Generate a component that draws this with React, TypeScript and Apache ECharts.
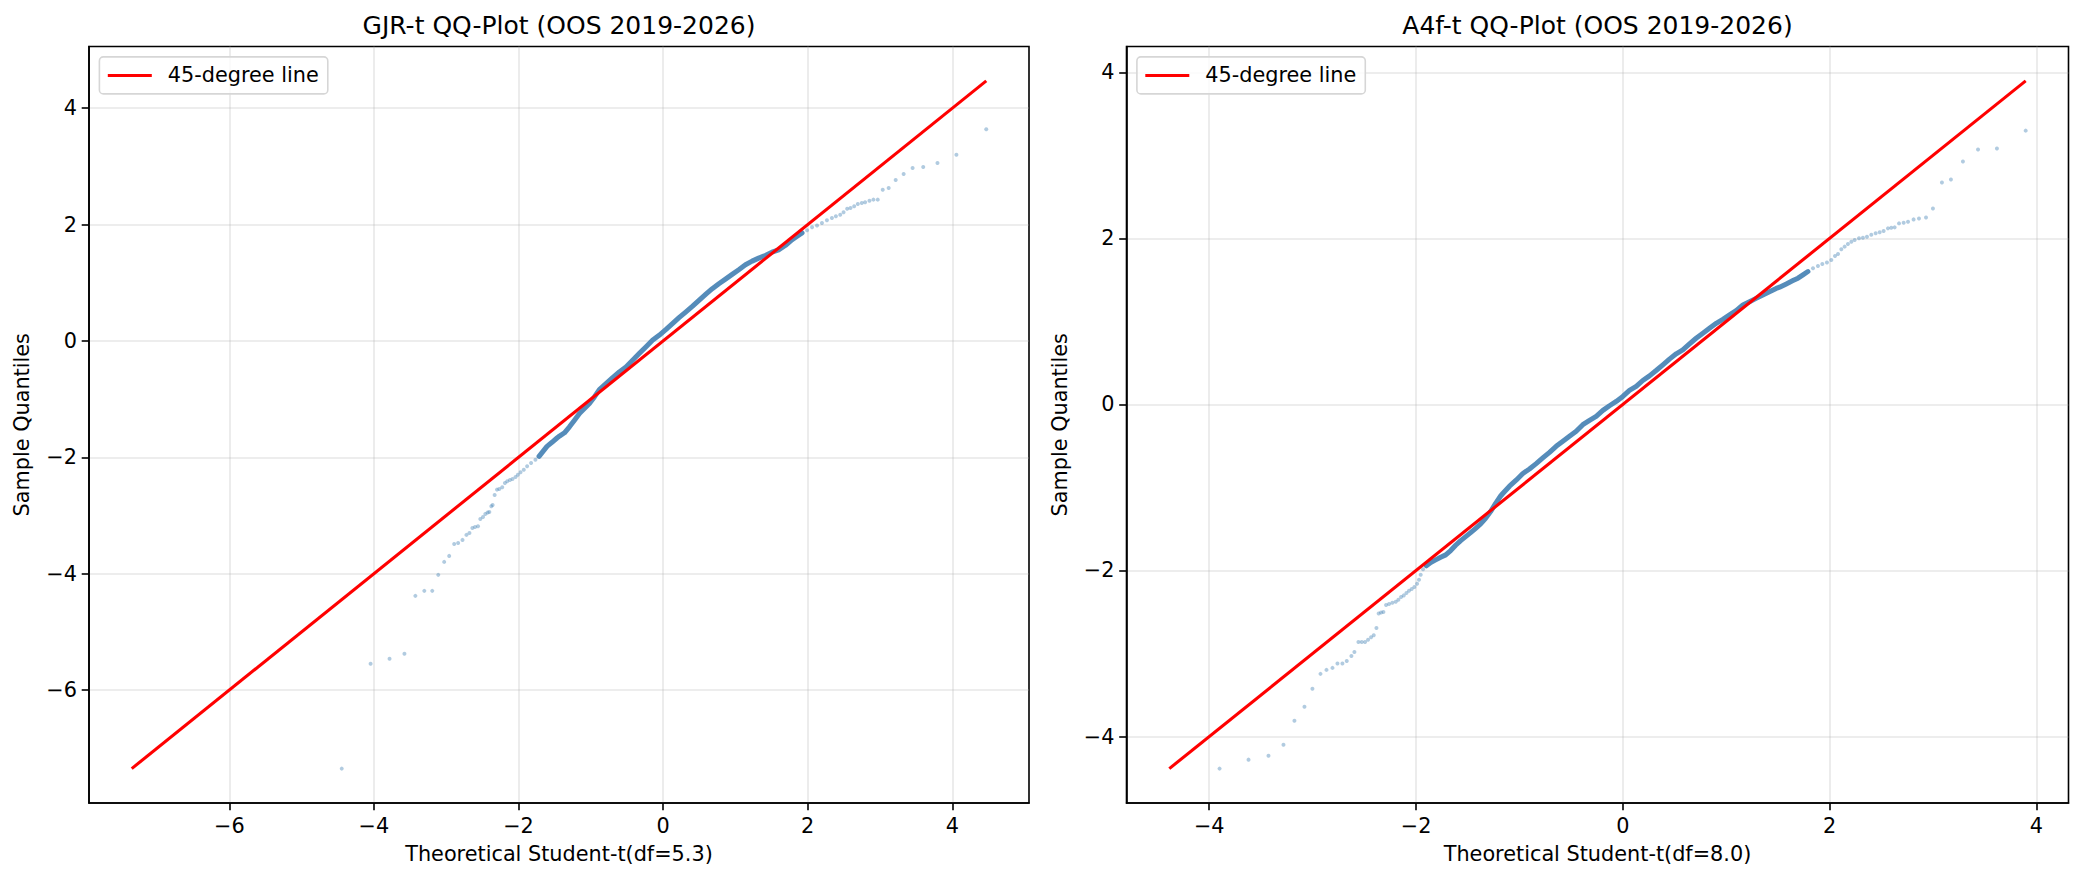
import React, { useEffect, useRef } from "react";
import * as echarts from "echarts";

const FONT = "'DejaVu Sans', 'Liberation Sans', sans-serif";

// Each point is [theoretical quantile, sample quantile].

// GJR-t model, Student-t(df=5.3)
const gjrLowerTail: number[][] = [
  [-4.445, -7.35], [-4.046, -5.548], [-3.784, -5.462], [-3.578, -5.376], [-3.427, -4.381],
  [-3.303, -4.295], [-3.193, -4.295], [-3.11, -4.02], [-3.028, -3.797], [-2.959, -3.694],
  [-2.89, -3.488], [-2.835, -3.471], [-2.775, -3.419], [-2.72, -3.333], [-2.679, -3.299],
  [-2.638, -3.213], [-2.601, -3.196], [-2.56, -3.185], [-2.528, -3.059], [-2.491, -3.024],
  [-2.459, -2.973], [-2.427, -2.95], [-2.404, -2.938], [-2.376, -2.841], [-2.358, -2.818],
  [-2.33, -2.647], [-2.298, -2.555], [-2.266, -2.544], [-2.225, -2.515], [-2.188, -2.441],
  [-2.156, -2.412], [-2.119, -2.389], [-2.083, -2.372], [-2.041, -2.338], [-2.009, -2.298],
  [-1.972, -2.258], [-1.927, -2.212], [-1.881, -2.155], [-1.826, -2.097], [-1.766, -2.04],
];
const gjrCore: number[][] = [
  [-1.716, -1.983], [-1.661, -1.897], [-1.606, -1.811], [-1.537, -1.742], [-1.468, -1.668],
  [-1.433, -1.635], [-1.364, -1.578], [-1.295, -1.475], [-1.226, -1.361], [-1.157, -1.246],
  [-1.088, -1.161], [-1.019, -1.075], [-0.95, -0.961], [-0.882, -0.835], [-0.79, -0.732],
  [-0.698, -0.629], [-0.606, -0.532], [-0.514, -0.446], [-0.422, -0.332], [-0.331, -0.217],
  [-0.239, -0.103], [-0.147, 0.011], [-0.055, 0.097], [0.037, 0.194], [0.129, 0.297],
  [0.22, 0.4], [0.312, 0.497], [0.404, 0.595], [0.496, 0.698], [0.588, 0.8],
  [0.68, 0.898], [0.771, 0.983], [0.863, 1.063], [0.955, 1.144], [1.047, 1.224],
  [1.139, 1.309], [1.231, 1.372], [1.322, 1.424], [1.414, 1.469], [1.506, 1.527],
  [1.598, 1.567], [1.69, 1.641], [1.781, 1.738], [1.85, 1.795], [1.922, 1.857],
];
const gjrUpperTail: number[][] = [
  [1.991, 1.903], [2.06, 1.954], [2.129, 1.983], [2.197, 2.029], [2.266, 2.074],
  [2.335, 2.114], [2.39, 2.143], [2.45, 2.171], [2.496, 2.211], [2.546, 2.274],
  [2.592, 2.286], [2.643, 2.314], [2.693, 2.354], [2.748, 2.371], [2.794, 2.383],
  [2.854, 2.411], [2.909, 2.429], [2.969, 2.429], [3.038, 2.6], [3.12, 2.629],
  [3.217, 2.766], [3.327, 2.869], [3.451, 2.971], [3.598, 2.989], [3.795, 3.057],
  [4.057, 3.2], [4.47, 3.64],
];
const gjrTicks = [-6, -4, -2, 0, 2, 4];

// A4f-t model, Student-t(df=8.0)
const a4fLowerTail: number[][] = [
  [-3.9, -4.386], [-3.62, -4.278], [-3.427, -4.23], [-3.282, -4.098], [-3.176, -3.81],
  [-3.079, -3.642], [-3.002, -3.425], [-2.924, -3.245], [-2.866, -3.197], [-2.808, -3.173],
  [-2.76, -3.121], [-2.712, -3.121], [-2.67, -3.089], [-2.625, -3.029], [-2.596, -2.981],
  [-2.557, -2.861], [-2.525, -2.861], [-2.493, -2.861], [-2.464, -2.833], [-2.435, -2.805],
  [-2.409, -2.781], [-2.383, -2.693], [-2.361, -2.517], [-2.338, -2.505], [-2.316, -2.501],
  [-2.29, -2.416], [-2.261, -2.404], [-2.229, -2.388], [-2.196, -2.376], [-2.171, -2.352],
  [-2.145, -2.32], [-2.119, -2.3], [-2.093, -2.272], [-2.068, -2.244], [-2.042, -2.224],
  [-2.016, -2.2], [-1.99, -2.16], [-1.971, -2.112], [-1.955, -2.052], [-1.932, -1.984],
];
const a4fCore: number[][] = [
  [-1.9, -1.944], [-1.858, -1.904], [-1.81, -1.872], [-1.762, -1.84], [-1.713, -1.812],
  [-1.665, -1.76], [-1.617, -1.696], [-1.568, -1.64], [-1.52, -1.592], [-1.472, -1.544],
  [-1.423, -1.492], [-1.375, -1.439], [-1.327, -1.371], [-1.279, -1.291], [-1.23, -1.191],
  [-1.182, -1.103], [-1.161, -1.073], [-1.096, -0.985], [-1.032, -0.913], [-0.967, -0.833],
  [-0.903, -0.777], [-0.838, -0.713], [-0.774, -0.645], [-0.709, -0.577], [-0.645, -0.505],
  [-0.58, -0.444], [-0.516, -0.384], [-0.451, -0.324], [-0.387, -0.244], [-0.322, -0.192],
  [-0.258, -0.144], [-0.193, -0.072], [-0.129, -0.016], [-0.064, 0.036], [0.0, 0.096],
  [0.064, 0.168], [0.129, 0.216], [0.193, 0.288], [0.258, 0.344], [0.322, 0.408],
  [0.387, 0.476], [0.451, 0.545], [0.516, 0.609], [0.58, 0.657], [0.645, 0.729],
  [0.709, 0.797], [0.774, 0.857], [0.838, 0.917], [0.903, 0.977], [0.967, 1.025],
  [1.032, 1.077], [1.096, 1.129], [1.161, 1.197], [1.225, 1.237], [1.289, 1.277],
  [1.354, 1.317], [1.418, 1.357], [1.483, 1.397], [1.516, 1.411], [1.581, 1.451],
  [1.645, 1.491], [1.694, 1.52], [1.742, 1.56], [1.79, 1.6],
];
const a4fUpperTail: number[][] = [
  [1.839, 1.64], [1.887, 1.668], [1.929, 1.692], [1.974, 1.708], [2.016, 1.74],
  [2.052, 1.788], [2.081, 1.812], [2.113, 1.868], [2.145, 1.9], [2.177, 1.932],
  [2.21, 1.96], [2.242, 1.98], [2.284, 2.0], [2.322, 2.008], [2.361, 2.02],
  [2.403, 2.044], [2.445, 2.06], [2.484, 2.072], [2.522, 2.088], [2.564, 2.12],
  [2.596, 2.128], [2.629, 2.132], [2.671, 2.18], [2.716, 2.188], [2.758, 2.2],
  [2.812, 2.228], [2.864, 2.24], [2.932, 2.252], [2.999, 2.36], [3.086, 2.673],
  [3.173, 2.709], [3.289, 2.925], [3.435, 3.069], [3.618, 3.081], [3.896, 3.297],
];
const a4fTicks = [-4, -2, 0, 2, 4];

const LINE_NAME = "45-degree line";
const STEEL = "#4682b4";
const TOP = 46.5;
const HEIGHT = 756.5;

const panels = [
  {
    title: "GJR-t QQ-Plot (OOS 2019-2026)",
    xName: "Theoretical Student-t(df=5.3)",
    lower: gjrLowerTail,
    core: gjrCore,
    upper: gjrUpperTail,
    ticks: gjrTicks,
    left: 89,
    width: 940,
    yNameX: 22,
  },
  {
    title: "A4f-t QQ-Plot (OOS 2019-2026)",
    xName: "Theoretical Student-t(df=8.0)",
    lower: a4fLowerTail,
    core: a4fCore,
    upper: a4fUpperTail,
    ticks: a4fTicks,
    left: 1126.5,
    width: 942,
    yNameX: 1060,
  },
];

const fmt = (v: number) => (v < 0 ? "\u2212" + String(-v) : String(v));

function buildOption() {
  const grid: any[] = [];
  const xAxis: any[] = [];
  const yAxis: any[] = [];
  const series: any[] = [];
  const legend: any[] = [];
  const graphic: any[] = [];

  panels.forEach((p, i) => {
    const all = [...p.lower, ...p.core, ...p.upper];
    let lo = Infinity;
    let hi = -Infinity;
    all.forEach(([a, b]) => {
      lo = Math.min(lo, a, b);
      hi = Math.max(hi, a, b);
    });
    const pad = (hi - lo) * 0.05;
    const min = lo - pad;
    const max = hi + pad;

    grid.push({
      left: p.left,
      top: TOP,
      width: p.width,
      height: HEIGHT,
      show: true,
      borderColor: "#000",
      borderWidth: 1.6,
      backgroundColor: "transparent",
      containLabel: false,
    });

    const axisCommon = (ticks: number[]) => ({
      type: "value",
      gridIndex: i,
      min,
      max,
      minInterval: 2,
      maxInterval: 2,
      axisLine: { show: true, onZero: false, lineStyle: { color: "#000", width: 1.6 } },
      axisTick: {
        show: true,
        inside: false,
        length: 7.3,
        customValues: ticks,
        lineStyle: { color: "#000", width: 1.6 },
      },
      axisLabel: {
        show: true,
        customValues: ticks,
        formatter: fmt,
        color: "#000",
        fontSize: 20.8,
        fontFamily: FONT,
        margin: 12,
      },
      splitLine: { show: true, lineStyle: { color: "#b0b0b0", opacity: 0.3, width: 1.6 } },
    });

    xAxis.push(axisCommon(p.ticks));
    yAxis.push(axisCommon(p.ticks));

    series.push({
      type: "line",
      name: "core-" + i,
      xAxisIndex: i,
      yAxisIndex: i,
      data: p.core,
      symbol: "none",
      showSymbol: false,
      silent: true,
      z: 2,
      lineStyle: { color: STEEL, width: 5, opacity: 0.92, cap: "round", join: "round" },
      itemStyle: { color: STEEL },
    });
    series.push({
      type: "scatter",
      name: "tails-" + i,
      xAxisIndex: i,
      yAxisIndex: i,
      data: [...p.lower, ...p.upper],
      symbol: "circle",
      symbolSize: 4,
      silent: true,
      z: 3,
      itemStyle: { color: STEEL, opacity: 0.42 },
    });
    series.push({
      type: "line",
      name: LINE_NAME,
      xAxisIndex: i,
      yAxisIndex: i,
      data: [
        [lo, lo],
        [hi, hi],
      ],
      symbol: "none",
      showSymbol: false,
      silent: true,
      z: 5,
      lineStyle: { color: "#ff0000", width: 3.1 },
      itemStyle: { color: "#ff0000" },
    });

    legend.push({
      data: [LINE_NAME],
      left: p.left + 10.4,
      top: TOP + 10.4,
      orient: "vertical",
      icon: "rect",
      itemWidth: 44,
      itemHeight: 3,
      itemGap: 0,
      padding: [8, 9, 8, 8.4],
      backgroundColor: "rgba(255,255,255,0.8)",
      borderColor: "#d6d6d6",
      borderWidth: 1.6,
      borderRadius: 4,
      selectedMode: false,
      textStyle: {
        color: "#000",
        fontSize: 20.8,
        fontFamily: FONT,
        padding: [0, 0, 0, 11],
      },
    });

    const cx = p.left + p.width / 2;
    graphic.push({
      type: "text",
      x: cx,
      y: 25.3,
      style: {
        text: p.title,
        fontSize: 25,
        fontFamily: FONT,
        fill: "#000",
        textAlign: "center",
        textVerticalAlign: "middle",
      },
    });
    graphic.push({
      type: "text",
      x: cx,
      y: 854,
      style: {
        text: p.xName,
        fontSize: 20.8,
        fontFamily: FONT,
        fill: "#000",
        textAlign: "center",
        textVerticalAlign: "middle",
      },
    });
    graphic.push({
      type: "text",
      x: p.yNameX,
      y: TOP + HEIGHT / 2,
      rotation: Math.PI / 2,
      style: {
        text: "Sample Quantiles",
        fontSize: 20.8,
        fontFamily: FONT,
        fill: "#000",
        textAlign: "center",
        textVerticalAlign: "middle",
      },
    });
  });

  return {
    animation: false,
    backgroundColor: "#ffffff",
    grid,
    xAxis,
    yAxis,
    legend,
    graphic,
    series,
  };
}

export default function App() {
  const ref = useRef<HTMLDivElement>(null);

  useEffect(() => {
    if (!ref.current) return;
    const chart = echarts.init(ref.current, undefined, { renderer: "svg" });
    chart.setOption(buildOption() as any);
    return () => chart.dispose();
  }, []);

  return (
    <div
      ref={ref}
      style={{ position: "absolute", left: 0, top: 0, width: 2084, height: 881, background: "#fff" }}
    />
  );
}
